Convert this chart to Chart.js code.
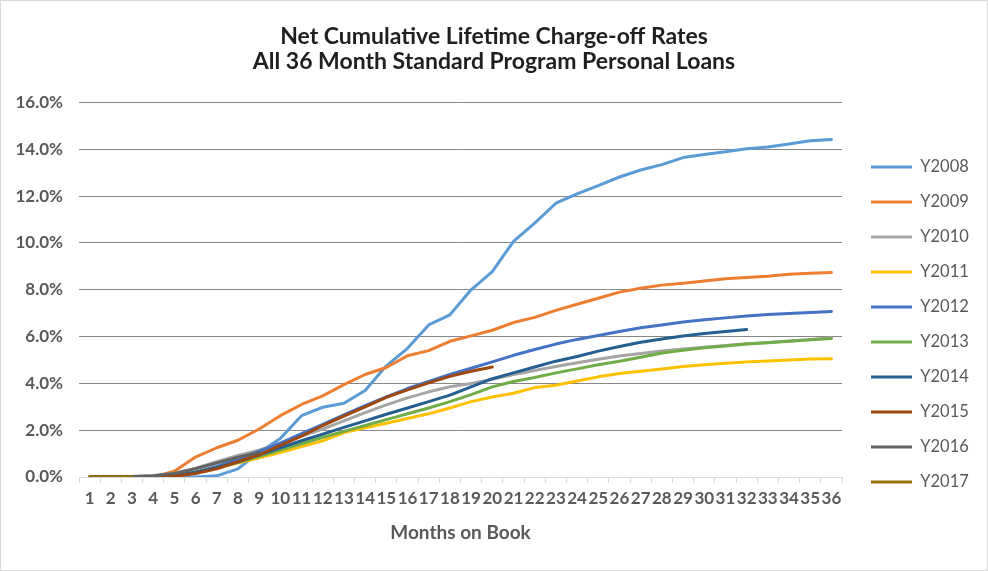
<!DOCTYPE html>
<html><head><meta charset="utf-8">
<script src="https://cdn.jsdelivr.net/npm/chart.js@4/dist/chart.umd.min.js"></script>
<style>html,body{margin:0;padding:0;background:#fff}#wrap{position:relative;width:988px;height:571px}</style>
</head><body><div id="wrap"><canvas id="c"></canvas></div>
<script>
const titleLines = ['Net Cumulative Lifetime Charge-off Rates', 'All 36 Month Standard Program Personal Loans'];
const xTitle = 'Months on Book';
const months = ['1','2','3','4','5','6','7','8','9','10','11','12','13','14','15','16','17','18','19','20','21','22','23','24','25','26','27','28','29','30','31','32','33','34','35','36'];
const yTicks = [0, 2, 4, 6, 8, 10, 12, 14, 16];
const seriesNames = ['Y2008','Y2009','Y2010','Y2011','Y2012','Y2013','Y2014','Y2015','Y2016','Y2017'];
const seriesColors = ['#5B9BD5','#ED7D31','#A5A5A5','#FFC000','#4472C4','#70AD47','#255E91','#9E480E','#636363','#997300'];

const y2008 = [0,0,0,0,0,0,0.05,0.35,1.05,1.65,2.62,2.98,3.15,3.7,4.75,5.5,6.5,6.93,8.0,8.78,10.07,10.85,11.7,12.1,12.45,12.82,13.12,13.35,13.65,13.78,13.9,14.03,14.1,14.23,14.37,14.42];
const y2009 = [0,0,0,0,0.25,0.85,1.25,1.57,2.05,2.62,3.1,3.47,3.95,4.38,4.68,5.18,5.4,5.8,6.03,6.27,6.6,6.82,7.12,7.38,7.64,7.9,8.07,8.2,8.28,8.38,8.47,8.53,8.58,8.66,8.71,8.74];
const y2010 = [0,0,0.02,0.05,0.15,0.38,0.65,0.92,1.15,1.45,1.75,2.05,2.4,2.75,3.08,3.38,3.64,3.86,4.0,4.18,4.38,4.55,4.72,4.88,5.03,5.17,5.28,5.38,5.47,5.55,5.62,5.69,5.75,5.81,5.88,5.95];
const y2011 = [0,0,0,0,0.05,0.2,0.4,0.6,0.82,1.05,1.3,1.55,1.9,2.1,2.3,2.5,2.7,2.95,3.22,3.42,3.58,3.82,3.92,4.1,4.28,4.42,4.52,4.62,4.72,4.8,4.86,4.92,4.96,5.0,5.04,5.05];
const y2012 = [0,0,0,0,0.05,0.2,0.45,0.75,1.1,1.45,1.85,2.25,2.65,3.05,3.42,3.78,4.08,4.38,4.65,4.92,5.2,5.45,5.68,5.88,6.05,6.22,6.38,6.5,6.62,6.72,6.8,6.88,6.94,6.99,7.03,7.07];
const y2013 = [0,0,0,0,0.05,0.2,0.4,0.62,0.88,1.15,1.42,1.7,1.95,2.2,2.45,2.7,2.95,3.22,3.52,3.85,4.08,4.25,4.45,4.62,4.8,4.95,5.12,5.3,5.42,5.52,5.6,5.68,5.74,5.8,5.86,5.92];
const y2014 = [0,0,0,0,0.05,0.2,0.4,0.65,0.95,1.25,1.55,1.83,2.12,2.4,2.68,2.95,3.22,3.5,3.85,4.2,4.45,4.7,4.95,5.15,5.38,5.58,5.76,5.9,6.03,6.13,6.22,6.3];
const y2015 = [0,0,0,0,0.03,0.15,0.35,0.65,0.95,1.35,1.75,2.2,2.6,3.0,3.4,3.72,4.02,4.3,4.52,4.7];
const y2016 = [0,0,0.02,0.05,0.15,0.35,0.6,0.85,1.05];
const y2017 = [0,0,0];
const seriesData = [y2008,y2009,y2010,y2011,y2012,y2013,y2014,y2015,y2016,y2017];

const datasets = seriesNames.map((name, i) => ({
  label: name,
  data: seriesData[i],
  borderColor: seriesColors[i],
  backgroundColor: seriesColors[i],
  borderWidth: 3,
  pointRadius: 0,
  pointHoverRadius: 0,
  tension: 0,
  fill: false,
  borderCapStyle: 'round',
  borderJoinStyle: 'round',
  order: -i
}));

const FONT = 'Lato, "Open Sans", sans-serif';

const layoutFix = {
  id: 'layoutFix',
  beforeUpdate(chart) {
    const l = chart.legend;
    if (l && !l._patched) {
      const f = l.fit;
      l.fit = function () { f.call(this); this.width = 146; };
      l._patched = true;
    }
  },
  afterLayout(chart) {
    const l = chart.legend;
    if (l) { l.left = 852.5; l.right = 988; l.top = 119; l.bottom = 530; }
  },
  afterDraw(chart) {
    const ctx = chart.ctx;
    ctx.save();
    ctx.strokeStyle = '#d9d9d9';
    ctx.lineWidth = 1;
    ctx.strokeRect(0.5, 0.5, chart.width - 1, chart.height - 1);
    ctx.restore();
  }
};

new Chart(document.getElementById('c'), {
  type: 'line',
  data: { labels: months, datasets },
  options: {
    responsive: true,
    maintainAspectRatio: false,
    animation: false,
    events: [],
    layout: { padding: { left: 0, right: 0, top: 0, bottom: 0 } },
    plugins: {
      title: {
        display: true, text: titleLines, color: '#1f1f1f',
        font: { family: FONT, size: 23, weight: 'bold', lineHeight: 1.1 },
        padding: { top: 24, bottom: 28 }
      },
      legend: {
        position: 'right', align: 'center',
        labels: {
          boxWidth: 41, boxHeight: 3, padding: 18.5, color: '#595959',
          font: { family: FONT, size: 16.5 },
          sort: (a, b) => a.datasetIndex - b.datasetIndex,
          generateLabels: (chart) => Chart.defaults.plugins.legend.labels.generateLabels(chart)
            .map(l => Object.assign(l, { fillStyle: l.strokeStyle, lineWidth: 0 }))
        }
      },
      tooltip: { enabled: false }
    },
    scales: {
      x: {
        offset: true,
        grid: { offset: true, drawOnChartArea: false, drawTicks: true, tickLength: 6, color: '#d9d9d9' },
        border: { color: '#d9d9d9' },
        ticks: { autoSkip: false, maxRotation: 0, minRotation: 0, padding: 5, color: '#595959',
          font: { family: FONT, size: 17, weight: 'bold' } },
        title: { display: true, text: xTitle, color: '#595959',
          font: { family: FONT, size: 19, weight: 'bold' }, padding: { top: 4, bottom: 27 } },
        afterFit(s) { s.height = 94; }
      },
      y: {
        min: 0, max: 16,
        afterBuildTicks(s) { s.ticks = yTicks.map(v => ({ value: v })); },
        ticks: { padding: 16, color: '#595959', callback: v => Number(v).toFixed(1) + '%',
          font: { family: FONT, size: 17, weight: 'bold' } },
        grid: { drawTicks: false, color: c => (c.tick && c.tick.value === 0) ? 'rgba(0,0,0,0)' : '#878787' },
        border: { display: false },
        afterFit(s) { s.width = 79; }
      }
    }
  },
  plugins: [layoutFix]
});
</script>
</body></html>
